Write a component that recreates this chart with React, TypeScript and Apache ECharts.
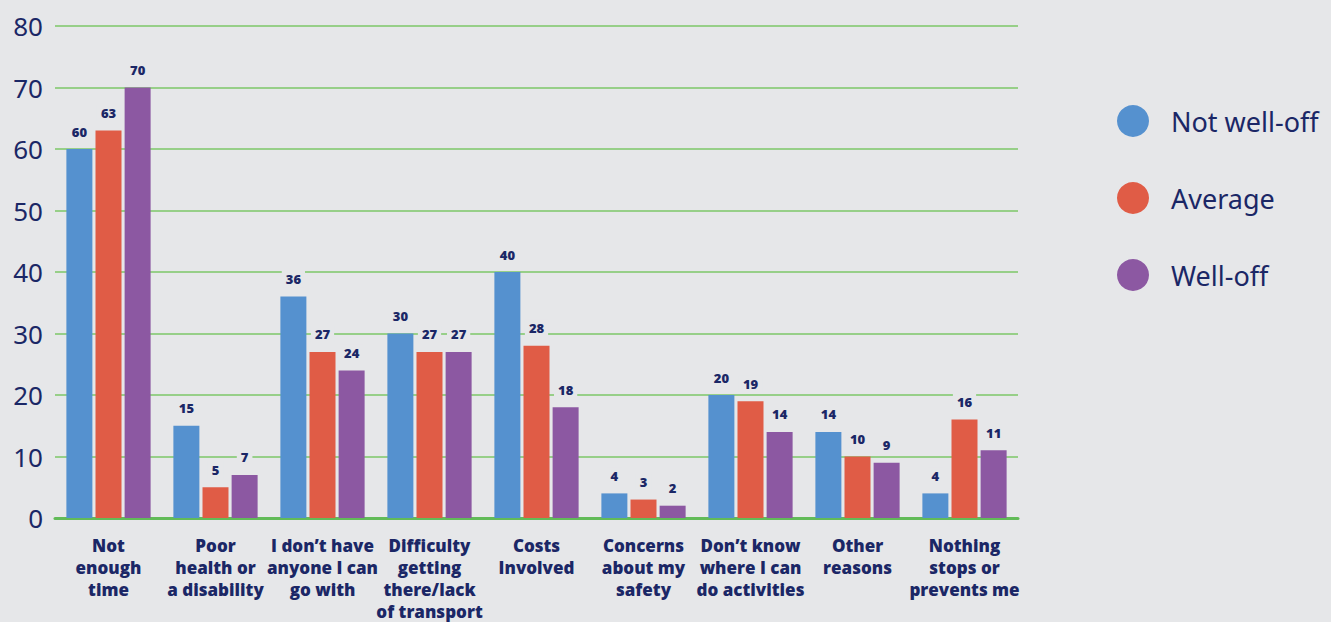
import React, { useEffect, useRef } from "react";
import * as echarts from "echarts";

const categories = [
  "Not\nenough\ntime",
  "Poor\nhealth or\na disability",
  "I don\u2019t have\nanyone I can\ngo with",
  "Difficulty\ngetting\nthere/lack\nof transport",
  "Costs\nInvolved",
  "Concerns\nabout my\nsafety",
  "Don\u2019t know\nwhere I can\ndo activities",
  "Other\nreasons",
  "Nothing\nstops or\nprevents me",
];
const notWellOff = [60, 15, 36, 30, 40, 4, 20, 14, 4];
const average = [63, 5, 27, 27, 28, 3, 19, 10, 16];
const wellOff = [70, 7, 24, 27, 18, 2, 14, 9, 11];
const yTicks = [0, 10, 20, 30, 40, 50, 60, 70, 80];

const BG = "#e6e7e9";
const NAVY = "#1b2766";
const GREEN = "#7cc767";

export default function App() {
  const ref = useRef<HTMLDivElement>(null);
  useEffect(() => {
    const chart = echarts.init(ref.current!, undefined, { renderer: "svg" });
    const label = {
      show: true,
      position: "top",
      distance: 9,
      color: NAVY,
      fontSize: 13,
      fontWeight: 800,
      fontFamily: "Open Sans",
      backgroundColor: BG,
      padding: [2, 4],
    };
    const mk = (name: string, data: number[], color: string) => ({
      name,
      type: "bar",
      data,
      barWidth: 26,
      barGap: "12%",
      itemStyle: { color },
      label,
    });
    chart.setOption({
      animation: false,
      backgroundColor: BG,
      textStyle: { fontFamily: "Open Sans" },
      grid: { left: 55, right: 313, top: 26, bottom: 100 },
      legend: {
        orient: "vertical",
        left: 1112,
        top: 100,
        icon: "circle",
        itemWidth: 32,
        itemHeight: 32,
        itemGap: 45,
        textStyle: { color: NAVY, fontSize: 27, fontFamily: "Noto Sans", padding: [0, 0, 0, 17] },
      },
      xAxis: {
        type: "category",
        data: categories,
        axisLine: { show: true, lineStyle: { color: "#62bb58", width: 3 } },
        axisTick: { show: false },
        axisLabel: {
          interval: 0,
          color: NAVY,
          fontSize: 17,
          fontWeight: 800,
          fontFamily: "Open Sans",
          lineHeight: 22,
          margin: 16,
        },
      },
      yAxis: {
        type: "value",
        min: yTicks[0],
        max: yTicks[yTicks.length - 1],
        interval: 10,
        axisLine: { show: false },
        axisTick: { show: false },
        splitLine: { lineStyle: { color: GREEN, width: 1.5 } },
        axisLabel: {
          color: NAVY,
          fontSize: 26,
          fontFamily: "Noto Sans",
          margin: 12,
        },
      },
      series: [
        mk("Not well-off", notWellOff, "#5591cf"),
        mk("Average", average, "#e05c46"),
        mk("Well-off", wellOff, "#8c58a2"),
      ],
    });
    return () => chart.dispose();
  }, []);
  return (
    <div
      ref={ref}
      style={{ position: "fixed", left: 0, top: 0, width: 1331, height: 622 }}
    />
  );
}
